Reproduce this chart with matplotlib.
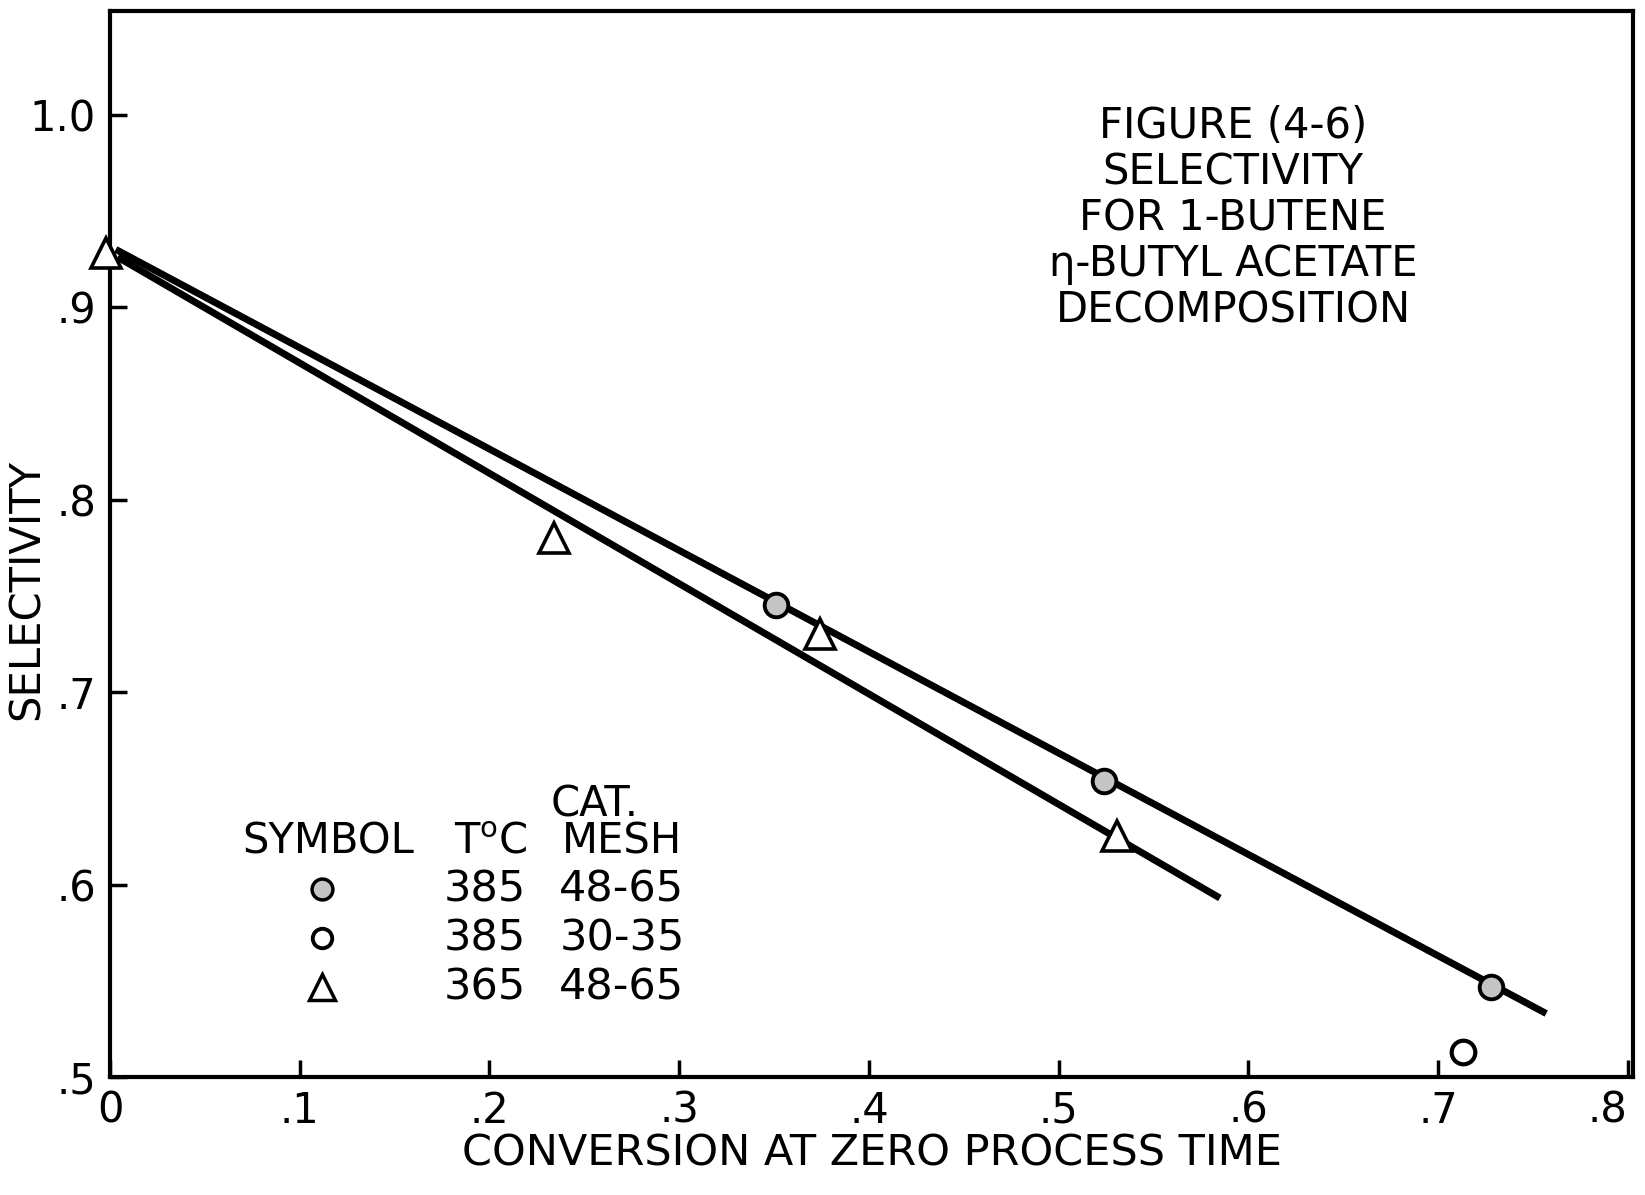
import numpy as np
import matplotlib.pyplot as plt

# data
x_filled = [0.351, 0.524, 0.728]      # 385 C, 48-65 mesh
y_filled = [0.745, 0.654, 0.547]
x_open = [0.713]                      # 385 C, 30-35 mesh
y_open = [0.513]
x_tri = [-0.002, 0.234, 0.374, 0.531]    # 365 C, 48-65 mesh
y_tri = [0.928, 0.780, 0.730, 0.625]

# hand drawn lines (end points)
line_385_x = [0.003, 0.757]
line_385_y = [0.930, 0.533]
line_365_x = [0.004, 0.585]
line_365_y = [0.926, 0.593]

xticks = [0, 0.1, 0.2, 0.3, 0.4, 0.5, 0.6, 0.7, 0.8]
xticklabels = ['0', '.1', '.2', '.3', '.4', '.5', '.6', '.7', '.8']
yticks = [0.5, 0.6, 0.7, 0.8, 0.9, 1.0]
yticklabels = ['.5', '.6', '.7', '.8', '.9', '1.0']

title_lines = ['FIGURE (4-6)', 'SELECTIVITY', 'FOR 1-BUTENE', 'η-BUTYL ACETATE', 'DECOMPOSITION']
leg_temp = ['385', '385', '365']
leg_mesh = ['48-65', '30-35', '48-65']

plt.rcParams['font.family'] = 'DejaVu Sans'

fig = plt.figure(figsize=(16.45, 11.95), dpi=100)
ax = fig.add_axes([0.0669, 0.0987, 0.9261, 0.8923])

ax.plot(line_385_x, line_385_y, color='black', lw=5, solid_capstyle='butt', zorder=2)
ax.plot(line_365_x, line_365_y, color='black', lw=5, solid_capstyle='butt', zorder=2)

ax.plot(x_filled, y_filled, 'o', ms=17, mfc='#c4c4c4', mec='black', mew=2.8, zorder=3)
ax.plot(x_open, y_open, 'o', ms=17, mfc='white', mec='black', mew=3, zorder=3)
ax.plot(x_tri, y_tri, '^', ms=22, mfc='white', mec='black', mew=2.6, zorder=3, clip_on=False)

ax.set_xlim(0, 0.803)
ax.set_ylim(0.5, 1.054)
ax.set_xticks(xticks)
ax.set_xticklabels(xticklabels)
ax.set_yticks(yticks)
ax.set_yticklabels(yticklabels)
ax.tick_params(direction='in', length=12, width=2.5, labelsize=30)
ax.tick_params(axis='x', pad=9)
ax.tick_params(axis='y', pad=10)
ax.get_xticklabels()[-1].set_ha('right')
for s in ax.spines.values():
    s.set_linewidth(3)

ax.set_xlabel('CONVERSION AT ZERO PROCESS TIME', fontsize=31, labelpad=1)
ax.set_ylabel('SELECTIVITY', fontsize=30)
ax.yaxis.set_label_coords(-0.041, 0.457)

# title block inside the plot
for i, t in enumerate(title_lines):
    ax.text(0.592, 0.994 - i * 0.0239, t, fontsize=30, ha='center', va='center')

# hand lettered key
tr = ax.transAxes
ax.text(0.318, 0.256, 'CAT.', fontsize=30, ha='center', va='center', transform=tr)
ax.text(0.143, 0.221, 'SYMBOL', fontsize=30, ha='center', va='center', transform=tr)
ax.text(0.250, 0.221, 'T$^{\\mathrm{o}}$C', fontsize=30, ha='center', va='center', transform=tr)
ax.text(0.336, 0.221, 'MESH', fontsize=30, ha='center', va='center', transform=tr)
key_y = [0.176, 0.130, 0.084]
ax.plot([0.139], [key_y[0]], 'o', ms=15, mfc='#c4c4c4', mec='black', mew=2.5, transform=tr)
ax.plot([0.139], [key_y[1]], 'o', ms=14, mfc='white', mec='black', mew=2.8, transform=tr)
ax.plot([0.139], [key_y[2]], '^', ms=19, mfc='white', mec='black', mew=2.5, transform=tr)
for yy, t, m in zip(key_y, leg_temp, leg_mesh):
    ax.text(0.246, yy, t, fontsize=31, ha='center', va='center', transform=tr)
    ax.text(0.336, yy, m, fontsize=31, ha='center', va='center', transform=tr)

fig.savefig('out.png', dpi=100)
